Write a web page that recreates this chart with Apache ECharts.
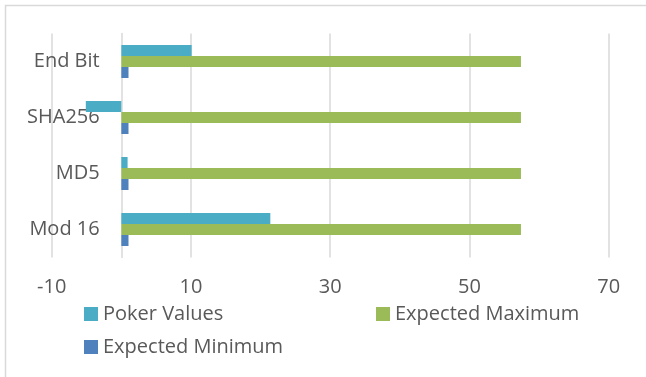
<!DOCTYPE html>
<html>
<head>
<meta charset="utf-8">
<script src="https://cdn.jsdelivr.net/npm/echarts@6/dist/echarts.min.js"></script>
<style>
  html, body { margin: 0; padding: 0; background: #ffffff; }
  #chart { width: 646px; height: 377px; }
</style>
</head>
<body>
<div id="chart"></div>
<script>
// Poker test statistic per generator, with the FIPS 140-2 acceptance bounds
const categories = ['Mod 16', 'MD5', 'SHA256', 'End Bit'];
const pokerValues = [21.4, 0.9, -5.1, 10.1];
const expectedMaximum = [57.4, 57.4, 57.4, 57.4];
const expectedMinimum = [1.03, 1.03, 1.03, 1.03];
const xTicks = [-10, 10, 30, 50, 70];

const FONT = '"Open Sans", "Noto Sans", sans-serif';
const TEXT = '#595959';
const GRID = '#d9d9d9';

const chart = echarts.init(document.getElementById('chart'), null, { renderer: 'canvas' });

function legendItem(name, left, top) {
  return {
    data: [name],
    left: left,
    top: top,
    padding: 0,
    itemWidth: 14,
    itemHeight: 14,
    icon: 'rect',
    textStyle: { fontFamily: FONT, fontSize: 20, color: TEXT }
  };
}

chart.setOption({
  animation: false,
  backgroundColor: '#ffffff',
  graphic: [{
    type: 'rect',
    shape: { x: 5.5, y: 5.5, width: 700, height: 420 },
    style: { fill: 'none', stroke: GRID, lineWidth: 1.5 },
    silent: true
  }],
  grid: { left: 51.7, top: 33.5, width: 557, height: 224, containLabel: false, outerBoundsMode: 'none' },
  legend: [
    legendItem('Poker Values', 84, 304),
    legendItem('Expected Maximum', 376, 304),
    legendItem('Expected Minimum', 84, 337)
  ],
  xAxis: {
    type: 'value',
    min: xTicks[0],
    max: xTicks[xTicks.length - 1],
    interval: xTicks[1] - xTicks[0],
    axisLine: { show: false },
    axisTick: { show: false },
    splitLine: { show: true, lineStyle: { color: GRID, width: 1.5 } },
    axisLabel: { fontFamily: FONT, fontSize: 20, color: TEXT, margin: 20 }
  },
  yAxis: {
    type: 'category',
    data: categories,
    axisLine: { show: true, onZero: true, lineStyle: { color: GRID, width: 1.5 } },
    axisTick: { show: false },
    splitLine: { show: false },
    // labels sit just left of the zero line, not the plot edge
    axisLabel: { fontFamily: FONT, fontSize: 20, color: TEXT, margin: -48 }
  },
  series: [
    {
      name: 'Poker Values', type: 'bar', data: pokerValues,
      barWidth: 11, barGap: '0%',
      itemStyle: { color: '#4bacc6' }
    },
    {
      name: 'Expected Maximum', type: 'bar', data: expectedMaximum,
      barWidth: 11, barGap: '0%',
      itemStyle: { color: '#9bbb59' }
    },
    {
      name: 'Expected Minimum', type: 'bar', data: expectedMinimum,
      barWidth: 11, barGap: '0%',
      itemStyle: { color: '#4f81bd' }
    }
  ]
});
</script>
</body>
</html>
